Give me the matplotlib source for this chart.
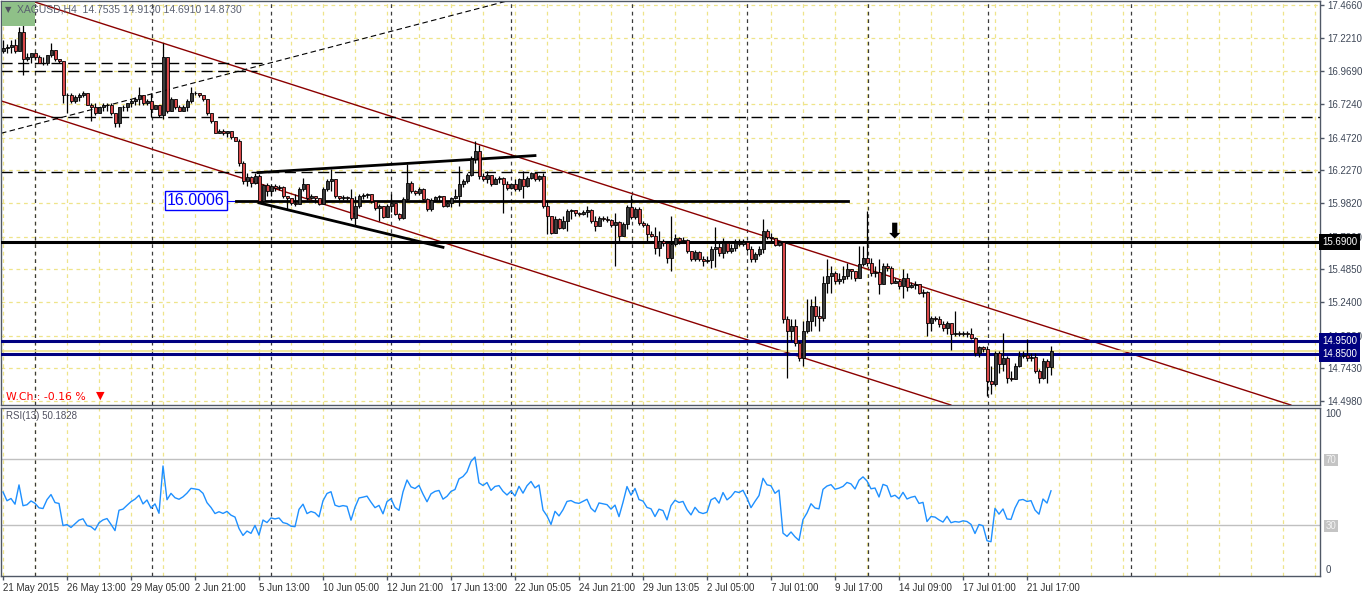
import numpy as np
import matplotlib
matplotlib.use('Agg')
import matplotlib.pyplot as plt
from matplotlib.patches import Rectangle

# XAGUSD H4 bars
first_open = 17.118
close = [17.14, 17.148, 17.163, 17.118, 17.26, 17.065, 17.073, 17.103, 17.08, 17.035,
         17.028, 17.088, 17.125, 17.058, 17.05, 16.788, 16.795, 16.75, 16.773, 16.795,
         16.803, 16.72, 16.705, 16.66, 16.698, 16.713, 16.72, 16.66, 16.585, 16.698,
         16.705, 16.728, 16.75, 16.765, 16.788, 16.728, 16.75, 16.69, 16.713, 16.638,
         17.073, 16.675, 16.765, 16.698, 16.675, 16.705, 16.75, 16.81, 16.803, 16.795,
         16.758, 16.653, 16.593, 16.51, 16.525, 16.503, 16.518, 16.473, 16.45, 16.285,
         16.15, 16.18, 16.135, 16.188, 16.00, 16.12, 16.075, 16.113, 16.098, 16.105,
         16.038, 16.023, 15.985, 15.978, 16.09, 16.128, 16.023, 16.038, 16.023, 15.978,
         16.09, 16.15, 16.165, 16.038, 16.023, 16.03, 16.023, 15.873, 15.963, 16.038,
         16.045, 16.053, 16.00, 15.948, 15.963, 15.88, 15.963, 15.985, 15.903, 15.873,
         16.015, 16.135, 16.075, 16.06, 16.09, 16.015, 15.94, 16.008, 16.03, 16.038,
         15.963, 15.985, 16.023, 16.038, 16.128, 16.15, 16.195, 16.315, 16.375, 16.188,
         16.165, 16.195, 16.128, 16.165, 16.173, 16.128, 16.098, 16.128, 16.09, 16.165,
         16.113, 16.173, 16.21, 16.165, 16.188, 15.963, 15.888, 15.76, 15.865, 15.798,
         15.85, 15.925, 15.933, 15.91, 15.903, 15.918, 15.933, 15.85, 15.813, 15.873,
         15.865, 15.858, 15.82, 15.843, 15.738, 15.828, 15.955, 15.88, 15.94, 15.835,
         15.82, 15.753, 15.738, 15.648, 15.70, 15.685, 15.573, 15.678, 15.723, 15.70,
         15.708, 15.625, 15.565, 15.618, 15.565, 15.55, 15.558, 15.64, 15.655, 15.61,
         15.685, 15.625, 15.648, 15.685, 15.678, 15.693, 15.64, 15.565, 15.603, 15.64,
         15.775, 15.73, 15.723, 15.67, 15.693, 15.115, 15.025, 15.063, 14.935, 14.823,
         15.025, 15.10, 15.213, 15.138, 15.123, 15.385, 15.438, 15.46, 15.40, 15.415,
         15.438, 15.49, 15.475, 15.423, 15.528, 15.573, 15.535, 15.46, 15.468, 15.378,
         15.513, 15.498, 15.385, 15.40, 15.363, 15.423, 15.355, 15.37, 15.378, 15.31,
         15.318, 15.085, 15.123, 15.115, 15.078, 15.048, 15.085, 15.003, 15.01, 15.003,
         15.01, 15.003, 14.973, 14.86, 14.905, 14.89, 14.65, 14.628, 14.86, 14.778,
         14.823, 14.673, 14.665, 14.763, 14.838, 14.845, 14.823, 14.83, 14.725, 14.673,
         14.80, 14.754, 14.873]
high = [17.20, 17.17, 17.20, 17.208, 17.298, 17.328, 17.11, 17.11, 17.095, 17.088,
        17.073, 17.095, 17.178, 17.11, 17.065, 17.05, 16.81, 16.81, 16.788, 16.803,
        16.818, 16.81, 16.728, 16.728, 16.705, 16.728, 16.728, 16.735, 16.66, 16.705,
        16.713, 16.735, 16.758, 16.78, 16.848, 16.795, 16.758, 16.803, 16.72, 16.713,
        17.178, 17.073, 16.773, 16.765, 16.72, 16.713, 16.758, 16.848, 16.818, 16.81,
        16.795, 16.765, 16.653, 16.593, 16.54, 16.533, 16.525, 16.525, 16.48, 16.465,
        16.30, 16.21, 16.188, 16.21, 16.203, 16.128, 16.135, 16.128, 16.128, 16.12,
        16.113, 16.038, 16.023, 16.053, 16.105, 16.173, 16.128, 16.053, 16.03, 16.023,
        16.105, 16.165, 16.24, 16.165, 16.038, 16.045, 16.038, 16.09, 16.038, 16.053,
        16.06, 16.06, 16.053, 16.00, 15.978, 15.963, 15.978, 16.053, 15.963, 15.91,
        16.03, 16.278, 16.15, 16.083, 16.105, 16.098, 16.023, 16.023, 16.038, 16.045,
        16.03, 15.993, 16.03, 16.09, 16.263, 16.165, 16.21, 16.338, 16.45, 16.413,
        16.21, 16.225, 16.188, 16.18, 16.188, 16.18, 16.15, 16.135, 16.165, 16.173,
        16.225, 16.188, 16.218, 16.218, 16.195, 16.21, 16.00, 15.888, 15.888, 15.873,
        15.888, 15.94, 15.94, 15.925, 15.918, 15.933, 15.963, 15.94, 15.888, 15.888,
        15.888, 15.888, 15.865, 15.91, 15.85, 15.843, 15.97, 16.045, 15.955, 15.955,
        15.85, 15.835, 15.775, 15.805, 15.775, 15.715, 15.70, 15.888, 15.753, 15.73,
        15.73, 15.715, 15.625, 15.633, 15.625, 15.588, 15.588, 15.663, 15.805, 15.70,
        15.723, 15.70, 15.678, 15.715, 15.715, 15.715, 15.70, 15.663, 15.618, 15.663,
        15.865, 15.79, 15.76, 15.715, 15.70, 15.678, 15.138, 15.115, 15.115, 14.95,
        15.10, 15.265, 15.265, 15.288, 15.213, 15.438, 15.565, 15.513, 15.475, 15.46,
        15.513, 15.535, 15.49, 15.475, 15.663, 15.663, 15.925, 15.573, 15.513, 15.565,
        15.535, 15.535, 15.513, 15.423, 15.415, 15.49, 15.46, 15.393, 15.40, 15.378,
        15.34, 15.325, 15.138, 15.138, 15.138, 15.10, 15.10, 15.063, 15.175, 15.025,
        15.025, 15.025, 15.048, 14.98, 14.913, 14.913, 14.913, 14.763, 14.875, 14.875,
        15.01, 14.838, 14.725, 14.785, 14.875, 14.875, 14.965, 14.86, 14.86, 14.74,
        14.823, 14.815, 14.913]
low = [17.103, 17.103, 17.11, 17.103, 17.163, 16.945, 17.05, 17.035, 17.058, 17.028,
       17.013, 17.02, 17.073, 17.043, 17.035, 16.735, 16.653, 16.735, 16.735, 16.743,
       16.773, 16.713, 16.60, 16.645, 16.66, 16.668, 16.668, 16.638, 16.548, 16.548,
       16.675, 16.675, 16.705, 16.72, 16.72, 16.72, 16.713, 16.623, 16.683, 16.63,
       16.615, 16.66, 16.675, 16.69, 16.668, 16.668, 16.668, 16.735, 16.788, 16.78,
       16.75, 16.645, 16.585, 16.503, 16.503, 16.488, 16.48, 16.465, 16.443, 16.263,
       16.128, 16.113, 16.105, 16.128, 15.985, 15.985, 16.038, 16.038, 16.075, 16.083,
       16.023, 15.94, 15.97, 15.963, 15.978, 16.075, 16.008, 16.015, 15.985, 15.97,
       15.978, 16.075, 16.075, 16.023, 16.008, 16.008, 16.008, 15.858, 15.813, 15.948,
       16.015, 16.023, 15.985, 15.933, 15.85, 15.873, 15.888, 15.918, 15.895, 15.858,
       15.865, 16.008, 16.06, 16.045, 16.045, 16.008, 15.925, 15.925, 16.00, 16.00,
       15.955, 15.955, 15.955, 16.015, 15.963, 16.105, 16.135, 16.188, 16.285, 16.165,
       16.15, 16.135, 16.113, 16.128, 16.135, 15.91, 16.083, 16.09, 16.075, 16.075,
       16.023, 16.105, 16.165, 16.15, 16.15, 15.948, 15.753, 15.753, 15.76, 15.79,
       15.79, 15.775, 15.865, 15.888, 15.888, 15.895, 15.88, 15.835, 15.775, 15.82,
       15.85, 15.843, 15.805, 15.513, 15.70, 15.768, 15.79, 15.865, 15.865, 15.82,
       15.805, 15.70, 15.73, 15.603, 15.588, 15.663, 15.535, 15.475, 15.663, 15.678,
       15.685, 15.61, 15.55, 15.55, 15.55, 15.513, 15.535, 15.498, 15.505, 15.588,
       15.573, 15.61, 15.61, 15.625, 15.663, 15.663, 15.625, 15.543, 15.543, 15.588,
       15.61, 15.715, 15.70, 15.663, 15.663, 15.085, 14.673, 14.95, 14.913, 14.80,
       14.763, 15.01, 15.025, 15.063, 15.025, 15.10, 15.31, 15.31, 15.378, 15.378,
       15.385, 15.415, 15.415, 15.40, 15.423, 15.513, 15.513, 15.438, 15.43, 15.303,
       15.438, 15.475, 15.378, 15.385, 15.34, 15.273, 15.325, 15.348, 15.34, 15.303,
       15.28, 14.988, 15.025, 15.10, 15.055, 15.025, 15.003, 14.883, 14.988, 14.988,
       14.988, 14.98, 14.965, 14.838, 14.83, 14.868, 14.538, 14.553, 14.613, 14.71,
       14.725, 14.635, 14.65, 14.71, 14.755, 14.823, 14.80, 14.80, 14.71, 14.635,
       14.665, 14.635, 14.691]

date_labels = ['21 May 2015', '26 May 13:00', '29 May 05:00', '2 Jun 21:00', '5 Jun 13:00',
               '10 Jun 05:00', '12 Jun 21:00', '17 Jun 13:00', '22 Jun 05:05', '24 Jun 21:00',
               '29 Jun 13:05', '2 Jul 05:00', '7 Jul 01:00', '9 Jul 17:00', '14 Jul 09:00',
               '17 Jul 01:00', '21 Jul 17:00']
price_ticks = [17.466, 17.221, 16.969, 16.724, 16.472, 16.227, 15.982, 15.730,
               15.485, 15.240, 14.988, 14.743, 14.498]
week_starts = [8, 37.25, 67, 97, 127, 157.25, 186, 216.25, 246.25, 282]


def rsi(values, n=13):
    # Wilder RSI of the closes, as the terminal draws it
    d = np.diff(values)
    up = np.where(d > 0, d, 0.0)
    dn = np.where(d < 0, -d, 0.0)
    au, ad = up[:n].mean(), dn[:n].mean()
    out = [50.0]
    for i in range(len(d)):
        au = (au * (n - 1) + up[i]) / n
        ad = (ad * (n - 1) + dn[i]) / n
        out.append(100 - 100 / (1 + au / ad) if ad > 0 else 100)
    return np.array(out)


close = np.array(close)
opens = np.concatenate([[first_open], close[:-1]])
opens[-1] = 14.7535
high = np.maximum.reduce([np.array(high), opens, close])
low = np.minimum.reduce([np.array(low), opens, close])
n = len(close)
x = np.arange(n)
rsi_vals = rsi(close)

W, H = 1362, 594
fig = plt.figure(figsize=(W / 100, H / 100), dpi=100)
fig.patch.set_facecolor('white')


def px_axes(x0, y0, x1, y1):
    return fig.add_axes([x0 / W, 1 - y1 / H, (x1 - x0) / W, (y1 - y0) / H])


ax = px_axes(1, 1, 1320, 405)
rx = px_axes(1, 408, 1320, 576)
axis_col = '#505866'
label_font = 'Liberation Sans'
grid_col = '#efe48a'

for a in (ax, rx):
    a.set_xlim(-0.5, -0.5 + 1319 / 4)
    for s in a.spines.values():
        s.set_color(axis_col)
        s.set_linewidth(1)
    # yellow grid every 8 bars
    for gx in range(0, 330, 8):
        a.axvline(gx, color=grid_col, lw=0.9, ls=(0, (3, 3)), zorder=0)
    for wx in week_starts:
        a.axvline(wx, color='#3a3a3a', lw=0.9, ls=(0, (3, 3)), zorder=0.5)

ax.set_ylim(14.468, 17.496)
rx.set_ylim(-0.9, 100.9)

for p in price_ticks:
    ax.axhline(p, color=grid_col, lw=0.9, ls=(0, (3, 3)), zorder=0)

ax.yaxis.tick_right()
ax.set_yticks(price_ticks)
ax.set_yticklabels(['%.4f' % p for p in price_ticks])
ax.tick_params(axis='y', length=3, width=1, color=axis_col, pad=2,
               labelsize=7, labelcolor='#3f4858')
ax.set_xticks([])
for lbl in ax.get_yticklabels():
    lbl.set_fontfamily(label_font)

# hand drawn lines on the chart
ax.axline((6.75, 17.50), (321.75, 14.47), color='#8b0000', lw=1, zorder=1)
ax.axline((-0.75, 16.75), (236.75, 14.47), color='#8b0000', lw=1, zorder=1)
ax.axline((-0.75, 16.5025), (121.75, 17.4625), color='black', lw=0.8, ls=(0, (5, 3)), zorder=1)
ax.plot([-0.5, 65], [17.035, 17.035], color='black', lw=1, ls=(0, (8, 4)), zorder=1)
ax.plot([-0.5, 63.5], [16.97, 16.97], color='black', lw=1, ls=(0, (8, 4)), zorder=1)
ax.axhline(16.63, color='black', lw=1, ls=(0, (8, 4)), zorder=1)
ax.axhline(16.218, color='black', lw=1, ls=(0, (8, 4)), zorder=1)
ax.axhline(15.69, color='black', lw=2.2, zorder=3)
ax.axhline(14.95, color='#000080', lw=2.2, zorder=3)
ax.axhline(14.85, color='#000080', lw=2.2, zorder=3)
ax.axhline(14.873, color='#ece08c', lw=1.2, zorder=1)
ax.plot([56.25, 58.25], [16.0006, 16.0006], color='#0000ff', lw=0.8, zorder=3)
ax.plot([58.25, 211.25], [16.0006, 16.0006], color='black', lw=2, zorder=3)
ax.plot([63.75, 133], [16.21, 16.3375], color='black', lw=2, zorder=3)
ax.plot([64, 110], [15.983, 15.65], color='black', lw=2, zorder=3)
ax.text(41, 16.0006, '16.0006', ha='left', va='center', fontsize=11.5, color='#0000ff',
        fontfamily=label_font, zorder=6,
        bbox=dict(boxstyle='square,pad=0.12', facecolor='white', edgecolor='#0000ff', lw=1))
ax.text(223, 15.768, '\u2b07', ha='center', va='center', fontsize=15, color='black',
        fontfamily='DejaVu Sans', fontweight='bold', zorder=6)

# candles
bull = close >= opens
body_lo = np.minimum(opens, close)
body_h = np.abs(close - opens)
ax.vlines(x, low, high, color='black', lw=0.9, zorder=4)
ax.bar(x[bull], body_h[bull], bottom=body_lo[bull], width=0.75, color='#3c3c3c',
       edgecolor='black', lw=0.6, zorder=5)
ax.bar(x[~bull], body_h[~bull], bottom=body_lo[~bull], width=0.75, color='#d9484a',
       edgecolor='black', lw=0.6, zorder=5)

# price tags on the right scale
for val, bg in [(15.69, 'black'), (14.95, '#000080'), (14.85, '#000080')]:
    ax.text(1.0015, val, '%.4f' % val, transform=ax.get_yaxis_transform(), ha='left',
            va='center', fontsize=7, color='white', fontfamily=label_font, clip_on=False,
            zorder=10, bbox=dict(boxstyle='square,pad=0.3', facecolor=bg, edgecolor='none'))

# RSI panel
rx.axhline(70, color='#c0c0c0', lw=1, zorder=1)
rx.axhline(30, color='#c0c0c0', lw=1, zorder=1)
rx.plot(x, rsi_vals, color='#1e90ff', lw=1, zorder=3)
rx.yaxis.tick_right()
rx.set_yticks([100, 70, 30, 0])
rx.set_yticklabels(['100', '70', '30', '0'])
rx.tick_params(axis='y', length=0, pad=4, labelsize=7, labelcolor='#3f4858')
for lbl in rx.get_yticklabels():
    lbl.set_fontfamily(label_font)
    if lbl.get_text() in ('70', '30'):
        lbl.set_color('#f4f4f4')
        lbl.set_bbox(dict(boxstyle='square,pad=0.15', facecolor='#c4c4c4', edgecolor='none'))
    elif lbl.get_text() == '100':
        lbl.set_verticalalignment('top')
    else:
        lbl.set_verticalalignment('bottom')
rx.set_xticks(np.arange(0, 16 * len(date_labels), 16))
rx.set_xticklabels(date_labels)
rx.tick_params(axis='x', length=3, width=1, color=axis_col, pad=2, labelsize=7,
               labelcolor='#303030')
for lbl in rx.get_xticklabels():
    lbl.set_fontfamily(label_font)
    lbl.set_horizontalalignment('left')

# header texts
fig.add_artist(Rectangle((2 / W, 1 - 26 / H), 33 / W, 24 / H, transform=fig.transFigure,
                         facecolor='#8fc088', edgecolor='none', zorder=5))
fig.text(5 / W, 1 - 10 / H, '\u25bc', fontsize=6, color='#505060', va='center', zorder=6)
fig.text(17 / W, 1 - 10 / H, 'XAGUSD,H4  14.7535 14.9130 14.6910 14.8730', fontsize=7.5,
         color='#5a6070', va='center', fontfamily=label_font, zorder=6)
fig.text(6 / W, 1 - 397 / H, 'W.Ch.: -0.16 %', fontsize=7.8, color='#ff0000', va='center',
         fontfamily='DejaVu Sans', zorder=6)
fig.text(96 / W, 1 - 396 / H, '\u25bc', fontsize=8, color='#ff0000', va='center', zorder=6)
fig.text(6 / W, 1 - 416 / H, 'RSI(13) 50.1828', fontsize=7, color='#505060', va='center',
         fontfamily=label_font, zorder=6)

fig.savefig('out.png', dpi=100, facecolor='white')
